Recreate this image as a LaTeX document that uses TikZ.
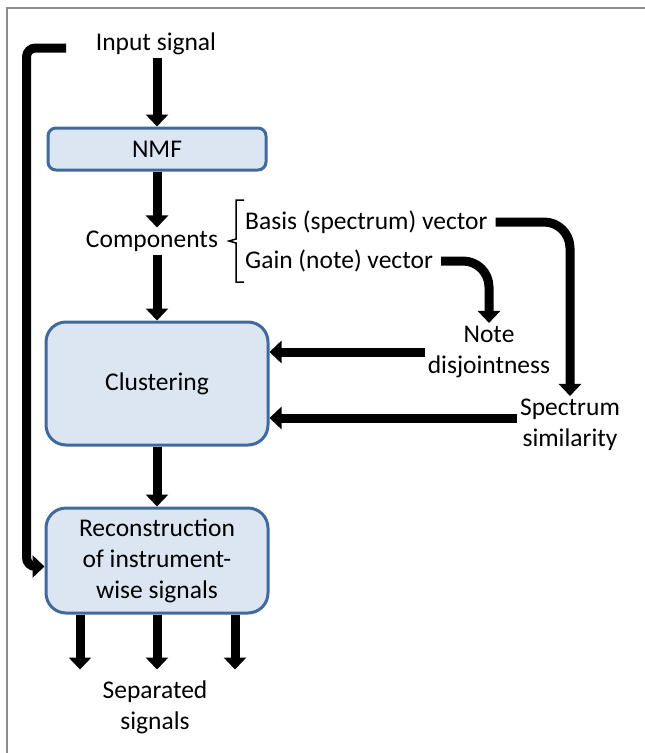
\documentclass[tikz,border=0pt]{standalone}
\usepackage{fontspec}
\setmainfont{Carlito}
\usetikzlibrary{arrows.meta, positioning, calc}

\definecolor{boxfill}{HTML}{DCE6F2}
\definecolor{boxline}{HTML}{41699A}
\definecolor{framegray}{HTML}{8C8C8C}

\begin{document}
\begin{tikzpicture}[
    x=1pt, y=-1pt,
    every node/.style={font=\fontsize{25.5}{31}\selectfont, align=center},
    stagebox/.style={rectangle, draw=boxline, fill=boxfill, line width=3pt, inner sep=2pt},
    label/.style={inner sep=3pt},
    arrow/.style={-{Triangle[width=22pt, length=12pt]}, line width=9pt},
    bendarrow/.style={arrow, rounded corners=26pt},
]
\useasboundingbox (0,0) rectangle (645,753);

% Frame
\draw[framegray, line width=2pt] (7,753) -- (7,8) -- (645,8);

% Stages
\node[label] (input) at (156,44) {Input signal};
\node[stagebox, rounded corners=8pt, minimum width=218pt, minimum height=42pt] (nmf) at (157,149) {NMF};
\node[label] (comp) at (152,241) {Components};
\node[stagebox, rounded corners=20pt, minimum width=222pt, minimum height=123pt] (clust) at (157,383.5) {Clustering};
\node[stagebox, rounded corners=20pt, minimum width=222pt, minimum height=105pt] (recon) at (157,560.5) {Reconstruction\\of instrument-\\wise signals};
\node[label] (sep) at (155,707) {Separated\\signals};

% Component vectors
\node[label, anchor=west] (basis) at (242,222) {Basis (spectrum) vector};
\node[label, anchor=west] (gain) at (242,261) {Gain (note) vector};
\node[label] (note) at (489,352) {Note\\disjointness};
\node[label] (spec) at (570,425) {Spectrum\\similarity};

% Bracket
\draw[line width=1.5pt] (244,200) -- (236,200) -- (236,239) -- (229,241) -- (236,243) -- (236,282) -- (244,282);

% Arrows
\draw[arrow] (input.south -| nmf) -- (nmf);
\draw[arrow] (nmf) -- (nmf |- comp.north);
\draw[arrow] (nmf |- comp.south) -- (clust);
\draw[arrow] (clust) -- (recon);
\draw[bendarrow] ([xshift=5pt]basis.east) -| (spec.north);
\draw[bendarrow] ([xshift=5pt]gain.east) -| (note.north);
\draw[arrow] (note.west) -- (note.west -| clust.east);
\draw[arrow] ([yshift=7pt]spec.west) -- ([yshift=7pt]spec.west -| clust.east);

% Outputs
\foreach \i/\dx in {1/-77,2/0,3/78} {
  \coordinate (out\i) at ($(recon.south)+(\dx,55)$);
  \draw[arrow] (recon.south -| out\i) -- (out\i);
}

% Feedback
\coordinate (fbstart) at (66,48);
\draw[arrow, rounded corners=9pt] (fbstart) -| ($([yshift=-6pt]recon.west)+(-18,0)$) -- ([yshift=-6pt]recon.west);

\end{tikzpicture}
\end{document}
